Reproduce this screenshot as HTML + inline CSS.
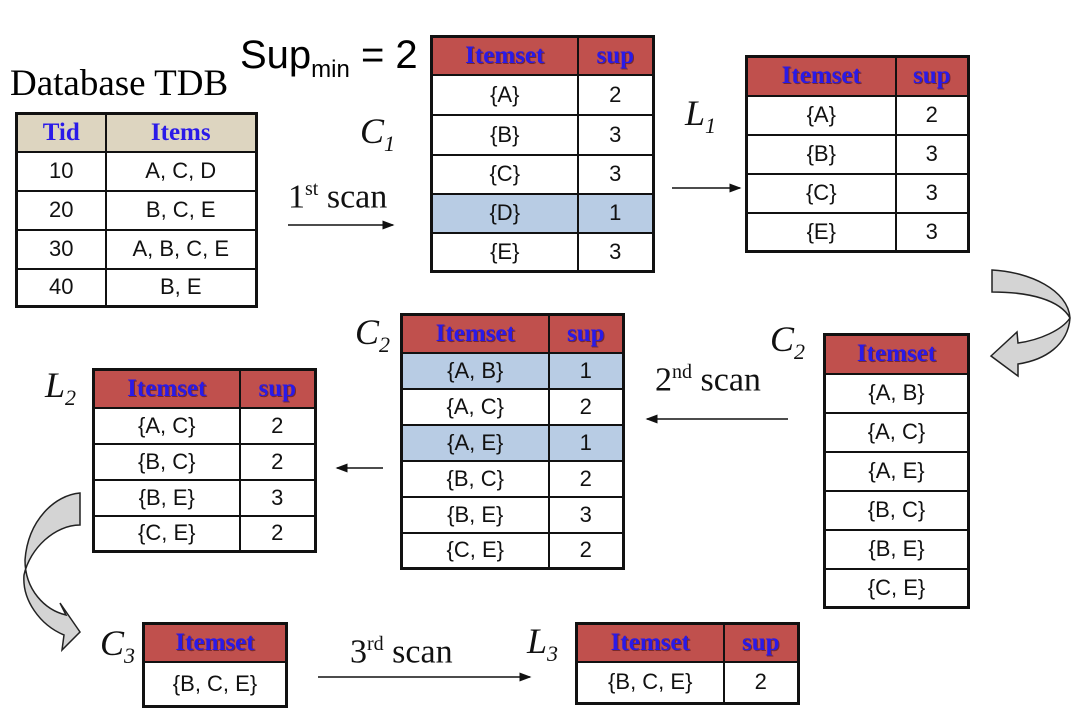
<!DOCTYPE html>
<html><head><meta charset="utf-8"><style>
body{margin:0;width:1080px;height:710px;background:#fff;position:relative;overflow:hidden;font-family:"Liberation Sans",sans-serif}
.a{position:absolute}
table{position:absolute;border-collapse:collapse;table-layout:fixed;border:3px solid #111}
td{border:2px solid #111;text-align:center;padding:0;font-size:22px;color:#111;overflow:hidden;white-space:nowrap}
td.h{background:#c0504d;color:#2a1ae8;font-family:"Liberation Serif",serif;font-weight:bold;font-size:25px;text-shadow:1px 1px 0 #7a2a2a}
td.t{background:#ddd5c0;color:#2a1ae8;font-family:"Liberation Serif",serif;font-weight:bold;font-size:25px}
tr.b td{background:#b8cce4}
.lab{position:absolute;font-family:"Liberation Serif",serif;font-style:italic;font-size:36px;color:#111}
.lab sub{font-size:22px}
.sc{position:absolute;font-family:"Liberation Serif",serif;font-size:34px;color:#111}
.sc sup{font-size:20px}
</style></head><body>
<div class="a" style="left:10px;top:62px;font-family:'Liberation Serif',serif;font-size:37px">Database TDB</div>
<div class="a" style="left:240px;top:33px;font-size:40px">Sup<sub style="font-size:24px">min</sub> = 2</div>

<table style="left:15px;top:112px;width:243px">
<col style="width:89px"><col>
<tr style="height:38px"><td class="t">Tid</td><td class="t">Items</td></tr>
<tr style="height:39px"><td>10</td><td>A, C, D</td></tr>
<tr style="height:39px"><td>20</td><td>B, C, E</td></tr>
<tr style="height:39px"><td>30</td><td>A, B, C, E</td></tr>
<tr style="height:38px"><td>40</td><td>B, E</td></tr>
</table>

<div class="lab" style="left:360px;top:110px">C<sub>1</sub></div>
<div class="sc" style="left:288px;top:178px">1<sup>st</sup> scan</div>
<svg class="a" style="left:0;top:0" width="1080" height="710">
<defs><marker id="m" markerWidth="8" markerHeight="8" refX="7" refY="4" orient="auto"><path d="M0,1 L8,4 L0,7 Z" fill="#111"/></marker></defs>
<g stroke="#111" stroke-width="1.5" marker-end="url(#m)">
<line x1="288" y1="225" x2="393" y2="225"/>
<line x1="672" y1="188" x2="740" y2="188"/>
<line x1="788" y1="419" x2="647" y2="419"/>
<line x1="383" y1="468" x2="337" y2="468"/>
<line x1="318" y1="677" x2="530" y2="677"/>
</g>
<path d="M992,270 C1030,272 1068,290 1070,318 C1068,345 1045,360 1018,364 L1018,376 L991,356 L1017,332 L1018,343 C1040,340 1062,330 1070,318 C1060,300 1030,292 992,292 Z" fill="#d4d4d4" stroke="#222" stroke-width="1.5"/>
<path d="M80,493 C55,495 28,520 25,560 C25,590 45,610 66,615 L60,603 L80,632 L62,650 L64,635 C40,625 22,600 24,575 C30,548 55,525 80,525 Z" fill="#d4d4d4" stroke="#222" stroke-width="1.5"/>
</svg>

<table style="left:430px;top:35px;width:225px">
<col style="width:146px"><col>
<tr style="height:38px"><td class="h">Itemset</td><td class="h">sup</td></tr>
<tr style="height:40px"><td>{A}</td><td>2</td></tr>
<tr style="height:40px"><td>{B}</td><td>3</td></tr>
<tr style="height:39px"><td>{C}</td><td>3</td></tr>
<tr class="b" style="height:39px"><td>{D}</td><td>1</td></tr>
<tr style="height:39px"><td>{E}</td><td>3</td></tr>
</table>

<div class="lab" style="left:685px;top:92px">L<sub>1</sub></div>
<table style="left:745px;top:55px;width:225px">
<col style="width:149px"><col>
<tr style="height:39px"><td class="h">Itemset</td><td class="h">sup</td></tr>
<tr style="height:39px"><td>{A}</td><td>2</td></tr>
<tr style="height:39px"><td>{B}</td><td>3</td></tr>
<tr style="height:39px"><td>{C}</td><td>3</td></tr>
<tr style="height:39px"><td>{E}</td><td>3</td></tr>
</table>

<div class="lab" style="left:770px;top:318px">C<sub>2</sub></div>
<table style="left:823px;top:333px;width:147px">
<tr style="height:39px"><td class="h">Itemset</td></tr>
<tr style="height:39px"><td>{A, B}</td></tr>
<tr style="height:39px"><td>{A, C}</td></tr>
<tr style="height:39px"><td>{A, E}</td></tr>
<tr style="height:39px"><td>{B, C}</td></tr>
<tr style="height:39px"><td>{B, E}</td></tr>
<tr style="height:39px"><td>{C, E}</td></tr>
</table>

<div class="sc" style="left:655px;top:361px">2<sup>nd</sup> scan</div>

<div class="lab" style="left:355px;top:311px">C<sub>2</sub></div>
<table style="left:400px;top:313px;width:225px">
<col style="width:147px"><col>
<tr style="height:38px"><td class="h">Itemset</td><td class="h">sup</td></tr>
<tr class="b" style="height:36px"><td>{A, B}</td><td>1</td></tr>
<tr style="height:36px"><td>{A, C}</td><td>2</td></tr>
<tr class="b" style="height:36px"><td>{A, E}</td><td>1</td></tr>
<tr style="height:36px"><td>{B, C}</td><td>2</td></tr>
<tr style="height:36px"><td>{B, E}</td><td>3</td></tr>
<tr style="height:36px"><td>{C, E}</td><td>2</td></tr>
</table>

<div class="lab" style="left:45px;top:364px">L<sub>2</sub></div>
<table style="left:92px;top:368px;width:225px">
<col style="width:146px"><col>
<tr style="height:38px"><td class="h">Itemset</td><td class="h">sup</td></tr>
<tr style="height:36px"><td>{A, C}</td><td>2</td></tr>
<tr style="height:36px"><td>{B, C}</td><td>2</td></tr>
<tr style="height:36px"><td>{B, E}</td><td>3</td></tr>
<tr style="height:36px"><td>{C, E}</td><td>2</td></tr>
</table>

<div class="lab" style="left:100px;top:622px">C<sub>3</sub></div>
<table style="left:142px;top:622px;width:146px">
<tr style="height:38px"><td class="h">Itemset</td></tr>
<tr style="height:45px"><td>{B, C, E}</td></tr>
</table>

<div class="sc" style="left:350px;top:633px">3<sup>rd</sup> scan</div>

<div class="lab" style="left:527px;top:620px">L<sub>3</sub></div>
<table style="left:575px;top:622px;width:225px">
<col style="width:147px"><col>
<tr style="height:38px"><td class="h">Itemset</td><td class="h">sup</td></tr>
<tr style="height:42px"><td>{B, C, E}</td><td>2</td></tr>
</table>
</body></html>
